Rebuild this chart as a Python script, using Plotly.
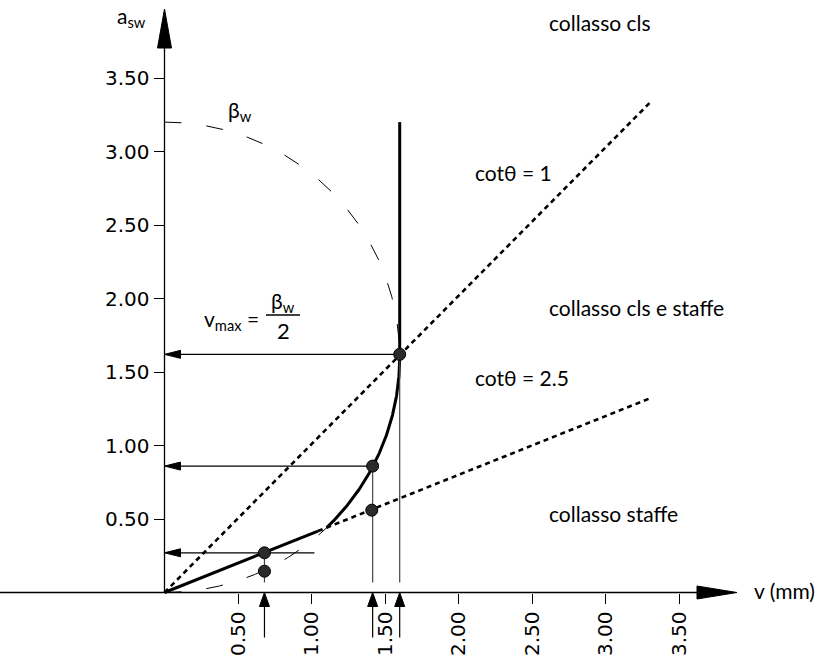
import numpy as np
import plotly.graph_objects as go

# ---------------- data ----------------
tick_vals = [0.5, 1.0, 1.5, 2.0, 2.5, 3.0, 3.5]
tick_text = ["0.50", "1.00", "1.50", "2.00", "2.50", "3.00", "3.50"]

beta_w = 3.2                      # diameter of the beta_w circle on the a_sw axis
v_max = beta_w / 2

cot1_v = [0.0, 3.3]               # cot(theta) = 1 line
cot1_a = [0.0, 3.33]
cot25_solid_v = [0.0, 1.044]      # cot(theta) = 2.5, solid part
cot25_solid_a = [0.0, 0.418]
cot25_dot_v = [1.044, 3.3]        # cot(theta) = 2.5, dotted part
cot25_dot_a = [0.418, 1.32]
crush_v = [1.6, 1.6]              # concrete crushing vertical
crush_a = [1.62, 3.2]

arc_upper_deg = [90, 0]           # dashed arc (degrees on circle)
arc_solid_deg = [0, -46.4]        # solid arc
arc_lower_deg = [-90, -46.4]      # dashed arc near origin

points_v = [1.6, 1.416, 1.41, 0.68, 0.68]
points_a = [1.62, 0.86, 0.56, 0.27, 0.145]

harrow_a = [1.62, 0.86, 0.27]     # horizontal arrows to a_sw axis
harrow_from_v = [1.6, 1.416, 1.02]

varrow_v = [0.68, 1.416, 1.6]     # vertical arrows to v axis
vline_top_a = [0.27, 0.86, 1.62]

# ---------------- geometry / style ----------------
W, H = 823, 664
PX = 147.0                        # pixels per unit
OX, OY = 164.5, 592.5             # pixel position of origin
xr = [-OX / PX, (W - OX) / PX]
yr = [-(H - OY) / PX, OY / PX]


def d(px):
    return px / PX


FONT = "Lato, 'Noto Sans', sans-serif"
TICKFONT = "'DejaVu Sans', sans-serif"
fig = go.Figure()


def line(x, y, width=1, color="black", dash=None):
    fig.add_trace(go.Scatter(x=x, y=y, mode="lines", hoverinfo="skip",
                             line=dict(color=color, width=width, dash=dash),
                             showlegend=False))


def tri(xs, ys):
    fig.add_trace(go.Scatter(x=xs + [xs[0]], y=ys + [ys[0]], mode="lines",
                             fill="toself", fillcolor="black",
                             line=dict(color="black", width=1),
                             hoverinfo="skip", showlegend=False))


def arc(deg_range, n=200):
    t = np.radians(np.linspace(deg_range[0], deg_range[1], n))
    r = beta_w / 2
    return list(r * np.cos(t)), list(r + r * np.sin(t))


# axes lines with arrowheads
x_tip, x_base = d(737 - OX), d(697 - OX)
line([xr[0], x_base], [0, 0], width=1.3)
tri([x_base, x_tip, x_base], [d(6.5), 0, -d(6.5)])
y_tip, y_base = d(OY - 9), d(OY - 48)
line([0, 0], [0, y_base], width=1.3)
tri([-d(7), 0, d(7)], [y_base, y_tip, y_base])

# beta_w circle
xa, ya = arc(arc_upper_deg)
line(xa, ya, width=1, dash="17px,25px")
xa, ya = arc(arc_lower_deg)
line(xa, ya, width=1, dash="17px,25px")
xa, ya = arc(arc_solid_deg)
line(xa, ya, width=3)

# cot lines
line(cot1_v, cot1_a, width=2.6, dash="5px,4px")
line(cot25_dot_v, cot25_dot_a, width=2.6, dash="5px,4px")
line(cot25_solid_v, cot25_solid_a, width=3)
line(crush_v, crush_a, width=3)

# horizontal arrows
for a, v0 in zip(harrow_a, harrow_from_v):
    line([d(16), v0], [a, a], width=1.2)
    tri([0, d(16), d(16)], [a, a + d(4), a - d(4)])

# vertical guide lines and arrows
for v, top in zip(varrow_v, vline_top_a):
    line([v, v], [d(10), top], width=1.2, color="#444")
    line([v, v], [-d(45), -d(14)], width=1.2)
    tri([v, v - d(5), v + d(5)], [0, -d(14), -d(14)])

# points
fig.add_trace(go.Scatter(x=points_v, y=points_a, mode="markers",
                         marker=dict(size=12, color="#2b2b2b",
                                     line=dict(color="black", width=1)),
                         hoverinfo="skip", showlegend=False))

# fraction bar for v_max
fig.add_shape(type="line", x0=d(266 - OX), x1=d(300 - OX),
              y0=d(OY - 315), y1=d(OY - 315), line=dict(color="black", width=1.3))

ann = []


def text(t, x, y, xanchor="left", size=21):
    ann.append(dict(text=t, x=x, y=y, xref="x", yref="y", showarrow=False,
                    xanchor=xanchor, yanchor="middle",
                    font=dict(family=FONT, size=size, color="black")))


text("a<sub>sw</sub>", d(148 - OX), d(OY - 17), xanchor="right")
text("β<sub>w</sub>", d(240 - OX), d(OY - 111), xanchor="center")
text("collasso cls", d(547 - OX), d(OY - 22))
text("cotθ = 1", d(473 - OX), d(OY - 172))
text("collasso cls e staffe", d(547 - OX), d(OY - 307))
text("cotθ = 2.5", d(473 - OX), d(OY - 377))
text("collasso staffe", d(547 - OX), d(OY - 513))
text("v (mm)", d(752 - OX), d(2))
text("v<sub>max</sub> =", d(261 - OX), d(OY - 320), xanchor="right")
text("β<sub>w</sub>", d(283 - OX), d(OY - 302), xanchor="center")
text("2", d(283 - OX), d(OY - 330), xanchor="center", size=22)

fig.update_layout(
    width=W, height=H,
    margin=dict(l=0, r=0, t=0, b=0),
    paper_bgcolor="white", plot_bgcolor="white",
    annotations=ann,
    font=dict(family=FONT, size=18, color="black"),
    xaxis=dict(range=xr, showgrid=False, zeroline=False, showline=False,
               tickmode="array", tickvals=tick_vals, ticktext=tick_text,
               ticks="outside", ticklen=10, tickwidth=1, tickcolor="black",
               tickangle=-90, anchor="free", position=(H - OY) / H,
               tickfont=dict(family=TICKFONT, size=20)),
    yaxis=dict(range=yr, showgrid=False, zeroline=False, showline=False,
               tickmode="array", tickvals=tick_vals, ticktext=tick_text,
               ticks="outside", ticklen=11, tickwidth=1, tickcolor="black",
               anchor="free", position=OX / W,
               tickfont=dict(family=TICKFONT, size=20)),
    showlegend=False,
    hovermode=False,
)

fig.write_html("out.html",
               config={"displayModeBar": False, "staticPlot": True},
               post_script="document.body.style.margin='0';"
                           "document.body.style.overflow='hidden';")
